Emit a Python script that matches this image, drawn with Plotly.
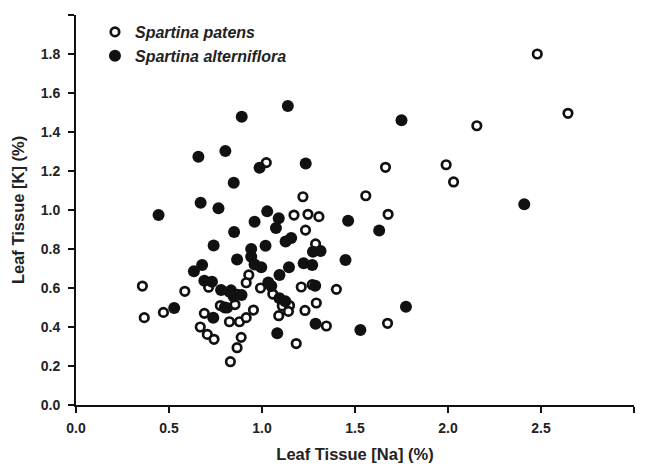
import plotly.graph_objects as go

# Spartina patens (open circles)
patens_na = [2.48, 2.645, 2.155, 1.664, 1.99, 2.03, 1.558, 1.678, 1.40, 1.675, 1.346,
             1.023, 1.22, 1.172, 1.247, 1.306, 1.234, 1.288, 0.929, 0.915, 0.992, 1.211,
             1.27, 0.713, 0.834, 0.866, 1.058, 1.109, 1.148, 1.09, 1.142, 1.231, 1.292,
             1.184, 0.69, 0.668, 0.706, 0.742, 0.776, 0.814, 0.855, 0.825, 0.879, 0.915,
             0.954, 0.888, 0.866, 0.83, 0.357, 0.367, 0.47, 0.585]
patens_k = [1.80, 1.496, 1.432, 1.219, 1.232, 1.144, 1.073, 0.978, 0.593, 0.419, 0.405,
            1.243, 1.068, 0.974, 0.978, 0.966, 0.897, 0.826, 0.667, 0.627, 0.600, 0.605,
            0.617, 0.604, 0.590, 0.568, 0.569, 0.508, 0.510, 0.458, 0.480, 0.485, 0.523,
            0.315, 0.47, 0.40, 0.362, 0.337, 0.510, 0.498, 0.515, 0.427, 0.427, 0.448,
            0.487, 0.347, 0.294, 0.222, 0.61, 0.448, 0.475, 0.583]

# Spartina alterniflora (filled circles)
alter_na = [1.75, 2.41, 1.463, 1.63, 1.449, 1.774, 1.529, 0.444, 0.658, 0.803, 0.891,
            1.139, 0.848, 0.987, 1.235, 0.67, 0.766, 1.028, 0.96, 1.09, 0.85, 1.075,
            1.127, 1.157, 1.019, 1.274, 1.315, 0.942, 0.942, 0.96, 0.996, 0.866, 1.224,
            1.27, 1.145, 1.094, 1.034, 1.05, 0.74, 0.678, 0.634, 0.69, 0.731, 0.78,
            0.825, 0.848, 0.89, 1.286, 1.094, 1.125, 1.288, 1.082, 0.738, 0.528, 0.80]
alter_k = [1.46, 1.029, 0.945, 0.895, 0.744, 0.504, 0.385, 0.974, 1.273, 1.303, 1.478,
           1.533, 1.14, 1.217, 1.239, 1.037, 1.009, 0.993, 0.94, 0.958, 0.887, 0.908,
           0.838, 0.857, 0.817, 0.786, 0.79, 0.800, 0.76, 0.72, 0.706, 0.746, 0.727,
           0.718, 0.706, 0.667, 0.628, 0.61, 0.818, 0.718, 0.686, 0.637, 0.632, 0.59,
           0.581, 0.556, 0.564, 0.612, 0.547, 0.532, 0.417, 0.368, 0.447, 0.497, 0.50]

x_ticks = [0.0, 0.5, 1.0, 1.5, 2.0, 2.5, 3.0]
y_ticks = [0.0, 0.2, 0.4, 0.6, 0.8, 1.0, 1.2, 1.4, 1.6, 1.8, 2.0]

FONT = "Liberation Sans, Arial, sans-serif"
INK = "#111111"
TXT = "#222222"

fig = go.Figure()
fig.add_trace(go.Scatter(
    x=patens_na, y=patens_k, mode="markers",
    name="<b><i>Spartina patens</i></b>",
    marker=dict(symbol="circle", size=8.5, color="white",
                line=dict(color=INK, width=2.7)),
))
fig.add_trace(go.Scatter(
    x=alter_na, y=alter_k, mode="markers",
    name="<b><i>Spartina alterniflora</i></b>",
    marker=dict(symbol="circle", size=12, color=INK, line=dict(width=0)),
))

axis_common = dict(
    showline=True, linecolor=INK, linewidth=2,
    ticks="outside", ticklen=6, tickwidth=2, tickcolor=INK,
    showgrid=False, zeroline=False, mirror=False,
    tickfont=dict(family=FONT, size=14, color=TXT, weight="bold"),
)

# The page body adds an 8px margin, so the figure is sized to fit the window.
fig.update_layout(
    width=629, height=457,
    margin=dict(l=68, r=3, t=7, b=60),
    paper_bgcolor="white", plot_bgcolor="white",
    font=dict(family=FONT, color=INK),
    showlegend=True,
    legend=dict(x=0.034, y=1.0, xanchor="left", yanchor="top",
                bgcolor="rgba(0,0,0,0)", borderwidth=0,
                font=dict(family=FONT, size=16, color=TXT),
                itemsizing="trace", tracegroupgap=0),
    xaxis=dict(range=[0, 3], tickvals=x_ticks,
               ticktext=[f"{v:.1f}" for v in x_ticks],
               ticklabelstandoff=3,
               title=dict(text="<b>Leaf Tissue [Na] (%)</b>",
                          font=dict(family=FONT, size=16.5, color=TXT),
                          standoff=14),
               **axis_common),
    yaxis=dict(range=[0, 2], tickvals=y_ticks,
               ticktext=[f"{v:.1f}" for v in y_ticks],
               ticklabelstandoff=5,
               title=dict(text="<b>Leaf Tissue [K] (%)</b>",
                          font=dict(family=FONT, size=16.5, color=TXT),
                          standoff=12),
               **axis_common),
)

fig.write_html("out.html")
